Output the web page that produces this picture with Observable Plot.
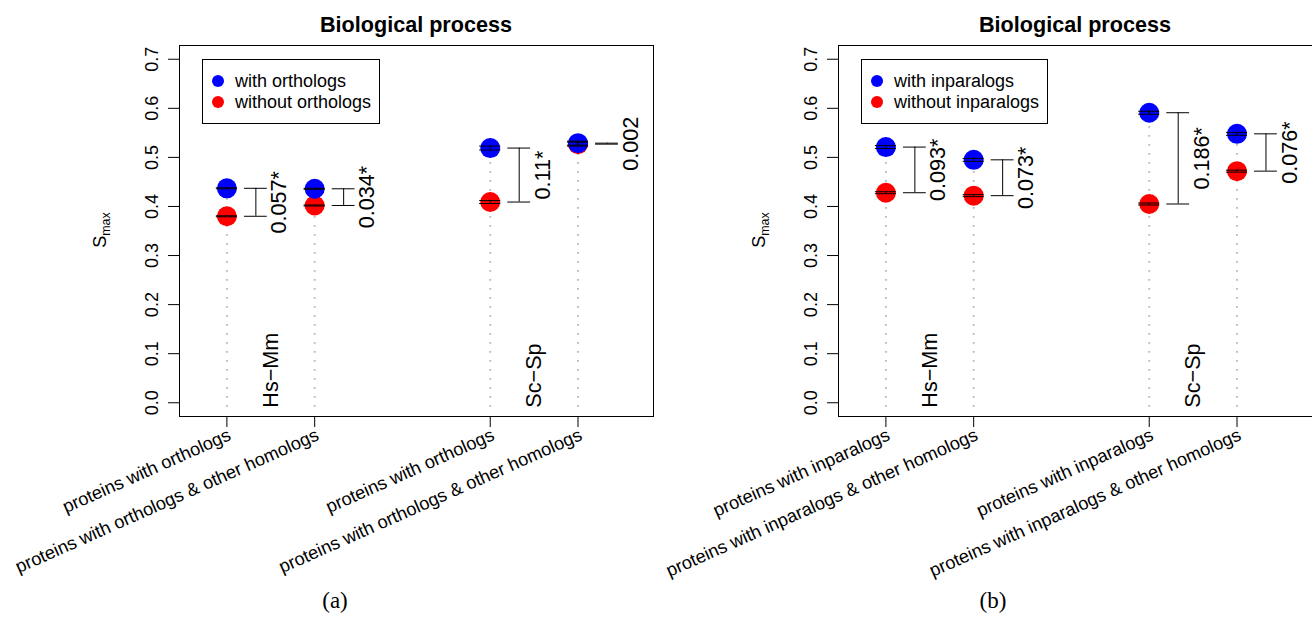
<!DOCTYPE html>
<html>
<head>
<meta charset="utf-8">
<script src="https://cdn.jsdelivr.net/npm/d3@7"></script>
<script src="https://cdn.jsdelivr.net/npm/@observablehq/plot@0.6"></script>
<style>
  html, body { margin: 0; padding: 0; background: #fff; }
  body { width: 1312px; height: 617px; overflow: hidden; position: relative;
         font-family: "Liberation Sans", Arial, Helvetica, sans-serif; color: #000; }
  .panel { position: absolute; top: 0; width: 656px; height: 590px; }
  .panel svg { max-width: none !important; }
  .ov { position: absolute; white-space: nowrap; }
  .title { font-weight: bold; font-size: 21.6px; transform: translateX(-50%); }
  .legend { border: 1px solid #000; box-sizing: border-box; background: #fff; }
  .legend .row { position: absolute; font-size: 18px; line-height: 18px; }
  .legend .dot { position: absolute; width: 12px; height: 12px; border-radius: 50%; }
  .ylab { font-size: 18px; transform: translate(-50%, -50%) rotate(-90deg); }
  .ylab sub { font-size: 12.5px; vertical-align: -4px; }
  .cap { font-family: "Liberation Serif", "Times New Roman", serif; font-size: 23px; transform: translateX(-50%); }
</style>
</head>
<body>
<script>
// ---------- data ----------
const positions = [1, 2, 4, 5];
const pairLabels = ["Hs\u2212Mm", "Sc\u2212Sp"];
const pairPositions = [1.5, 4.5];
const yTicks = [0, 0.1, 0.2, 0.3, 0.4, 0.5, 0.6, 0.7];
const panelTitle = "Biological process";
const colorWith = "#0000ff";
const colorWithout = "#ff0000";

// panel (a): orthologs
const labelsA = ["proteins with orthologs", "proteins with orthologs & other homologs",
                 "proteins with orthologs", "proteins with orthologs & other homologs"];
const withA = [0.437, 0.436, 0.519, 0.529];
const withoutA = [0.380, 0.402, 0.409, 0.527];
const seWithA = [0.001, 0.001, 0.004, 0.004];
const seWithoutA = [0.001, 0.001, 0.003, 0.004];
const diffA = ["0.057*", "0.034*", "0.11*", "0.002"];
const legendA = ["with orthologs", "without orthologs"];

// panel (b): inparalogs
const labelsB = ["proteins with inparalogs", "proteins with inparalogs & other homologs",
                 "proteins with inparalogs", "proteins with inparalogs & other homologs"];
const withB = [0.521, 0.495, 0.591, 0.548];
const withoutB = [0.428, 0.422, 0.405, 0.472];
const seWithB = [0.003, 0.003, 0.003, 0.003];
const seWithoutB = [0.002, 0.002, 0.002, 0.002];
const diffB = ["0.093*", "0.073*", "0.186*", "0.076*"];
const legendB = ["with inparalogs", "without inparalogs"];

const captions = ["(a)", "(b)"];

// ---------- drawing ----------
const W = 656, H = 590;
const mL = 179, mR = 3, mT = 45, mB = H - 416;

function makePanel(labels, withV, withoutV, seWith, seWithout, diffs) {
  const pts = [];
  positions.forEach((x, i) => {
    pts.push({x, v: withoutV[i], se: seWithout[i], c: colorWithout});
    pts.push({x, v: withV[i], se: seWith[i], c: colorWith});
  });
  const caps = pts.flatMap(p => [{x: p.x, y: p.v - p.se}, {x: p.x, y: p.v + p.se}]);
  const pairs = positions.map((x, i) => ({x, hi: withV[i], lo: withoutV[i], t: diffs[i]}));
  const bracketCaps = pairs.flatMap(p => [{x: p.x, y: p.hi}, {x: p.x, y: p.lo}]);
  const stems = positions.map((x, i) => ({x, top: Math.max(withV[i], withoutV[i])}));

  return Plot.plot({
    width: W, height: H,
    marginLeft: mL, marginRight: mR, marginTop: mT, marginBottom: mB,
    style: {fontFamily: '"Liberation Sans", Arial, Helvetica, sans-serif', fontSize: "18px", background: "#fff", color: "#000", maxWidth: "none"},
    x: {type: "linear", domain: [0.46, 5.86], axis: null},
    y: {type: "linear", domain: [-0.028, 0.728], axis: null},
    marks: [
      // dotted guide lines
      Plot.ruleX(stems, {x: "x", y1: -0.009, y2: "top", stroke: "#bdbdbd", strokeWidth: 2, strokeDasharray: "1.6,7.4"}),
      // points
      Plot.dot(pts, {x: "x", y: "v", r: 10, fill: "c", stroke: null}),
      // error bars
      Plot.ruleX(pts, {x: "x", y1: d => d.v - d.se, y2: d => d.v + d.se, stroke: "#000", strokeWidth: 1}),
      Plot.ruleY(caps, {y: "y", x1: d => d.x - 0.12, x2: d => d.x + 0.12, stroke: "#000", strokeWidth: 1}),
      // difference brackets
      Plot.ruleX(pairs, {x: d => d.x + 0.33, y1: "lo", y2: "hi", stroke: "#000", strokeWidth: 1}),
      Plot.ruleY(bracketCaps, {y: "y", x1: d => d.x + 0.2, x2: d => d.x + 0.46, stroke: "#000", strokeWidth: 1}),
      Plot.text(pairs, {x: d => d.x + 0.6, y: d => (d.hi + d.lo) / 2, text: "t", rotate: -90,
                        textAnchor: "middle", lineAnchor: "middle", fontSize: 21.6, fill: "#000"}),
      // species pair labels
      Plot.text(pairLabels, {x: (d, i) => pairPositions[i], y: -0.01, text: d => d, rotate: -90,
                             textAnchor: "start", lineAnchor: "middle", fontSize: 21.6, fill: "#000"}),
      // frame
      Plot.frame({stroke: "#000", strokeWidth: 1}),
      // axes ticks
      Plot.axisY({ticks: yTicks, tickSize: 11, tickFormat: () => "", label: null, stroke: "#000"}),
      Plot.axisX({ticks: positions, tickSize: 11, tickFormat: () => "", label: null, stroke: "#000"}),
      // y tick labels (rotated as in R)
      Plot.text(yTicks, {y: d => d, text: d => d.toFixed(1), frameAnchor: "left", dx: -22, rotate: -90,
                         textAnchor: "middle", lineAnchor: "bottom", fontSize: 18, fill: "#000"}),
      // x tick labels
      Plot.text(positions, {x: d => d, text: (d, i) => labels[i], frameAnchor: "bottom", dy: 11, rotate: -24,
                            textAnchor: "end", lineAnchor: "top", fontSize: 18.2, fill: "#000"})
    ]
  });
}

const panels = [
  {labels: labelsA, w: withA, wo: withoutA, sw: seWithA, swo: seWithoutA, d: diffA, leg: legendA, off: 0, legX: 202, legW: 178, capX: 335},
  {labels: labelsB, w: withB, wo: withoutB, sw: seWithB, swo: seWithoutB, d: diffB, leg: legendB, off: 659, legX: 861, legW: 187, capX: 993}
];

panels.forEach((p, idx) => {
  const div = document.createElement("div");
  div.className = "panel";
  div.style.left = p.off + "px";
  div.appendChild(makePanel(p.labels, p.w, p.wo, p.sw, p.swo, p.d));
  document.body.appendChild(div);

  // title
  const t = document.createElement("div");
  t.className = "ov title";
  t.style.left = (p.off + (mL + W - mR) / 2) + "px";
  t.style.top = "12px";
  t.textContent = panelTitle;
  document.body.appendChild(t);

  // y label
  const yl = document.createElement("div");
  yl.className = "ov ylab";
  yl.style.left = (p.off + 101) + "px";
  yl.style.top = "230px";
  yl.innerHTML = "S<sub>max</sub>";
  document.body.appendChild(yl);

  // legend
  const lg = document.createElement("div");
  lg.className = "ov legend";
  lg.style.left = p.legX + "px";
  lg.style.top = "59px";
  lg.style.width = p.legW + "px";
  lg.style.height = "65px";
  [colorWith, colorWithout].forEach((c, j) => {
    const dot = document.createElement("div");
    dot.className = "dot";
    dot.style.background = c;
    dot.style.left = (16 - 6 - 1) + "px";
    dot.style.top = (81 + 21 * j - 59 - 6 - 1) + "px";
    lg.appendChild(dot);
    const row = document.createElement("div");
    row.className = "row";
    row.style.left = (33 - 1) + "px";
    row.style.top = (81 + 21 * j - 59 - 9 - 1) + "px";
    row.textContent = p.leg[j];
    lg.appendChild(row);
  });
  document.body.appendChild(lg);

  // caption
  const cp = document.createElement("div");
  cp.className = "ov cap";
  cp.style.left = p.capX + "px";
  cp.style.top = "588px";
  cp.textContent = captions[idx];
  document.body.appendChild(cp);
});
</script>
</body>
</html>
